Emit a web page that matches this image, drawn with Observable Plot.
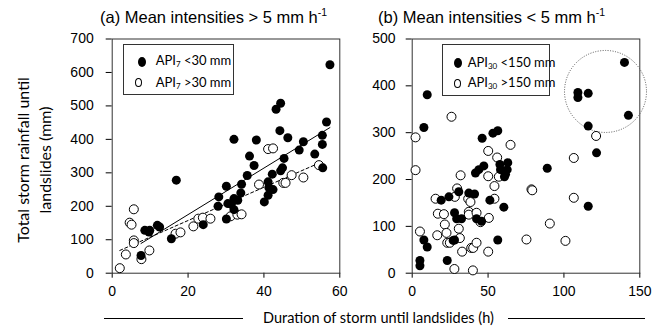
<!DOCTYPE html>
<html>
<head>
<meta charset="utf-8">
<script src="https://cdn.jsdelivr.net/npm/d3@7"></script>
<script src="https://cdn.jsdelivr.net/npm/@observablehq/plot@0.6"></script>
<style>
  html, body { margin: 0; padding: 0; background: #fff; }
  #wrap { position: relative; width: 665px; height: 329px; overflow: hidden; background: #fff; }
  .plot { position: absolute; top: 0; }
  .title { position: absolute; top: 8px; font: 16.5px "Liberation Sans", Arial, sans-serif; color: #000; white-space: nowrap; }
  .title sup { font-size: 10.5px; vertical-align: 7px; line-height: 0; }
  .legend { position: absolute; border: 1px solid #333; background: #fff; font: 13px Lato, sans-serif; color: #000; box-sizing: border-box; }
  .legend .row { position: absolute; white-space: nowrap; line-height: 14px; }
  .legend sub { font-size: 8px; vertical-align: -2px; line-height: 0; }
  .mk { position: absolute; width: 8px; height: 10px; border-radius: 50%; box-sizing: border-box; }
  .mk.f { background: #000; }
  .mk.o { border: 1px solid #000; background: #fff; width: 7px; height: 9px; }
  #ylab { position: absolute; left: 34px; top: 160px; transform: translate(-50%, -50%) rotate(-90deg); font: 16px Lato, sans-serif; line-height: 22px; text-align: center; white-space: nowrap; color: #000; }
  #xlab { position: absolute; top: 309px; left: 0; width: 665px; height: 20px; font: 14.5px Lato, sans-serif; color: #000; }
  #xlab .t { position: absolute; left: 263px; top: 0; white-space: nowrap; }
  #xlab .ln { position: absolute; top: 9px; height: 0; border-top: 1px solid #000; }
</style>
</head>
<body>
<div id="wrap">
  <div class="title" style="left:100px">(a) Mean intensities &gt; 5 mm h<sup>-1</sup></div>
  <div class="title" style="left:378px">(b) Mean intensities &lt; 5 mm h<sup>-1</sup></div>
  <div id="ylab">Total storm rainfall until<br>landslides (mm)</div>
  <div id="xlab"><div class="ln" style="left:104px;width:139px"></div><div class="t">Duration of storm until landslides (h)</div><div class="ln" style="left:508px;width:137px"></div></div>
</div>
<script>
// Panel (a): mean intensities > 5 mm/h
const aFilledX = [57.4,44.4,43.2,56.5,44.2,32.1,38.0,46.3,55.4,50.4,55.4,49.3,36.2,45.3,53.4,37.4,55.5,44.9,44.4,42.2,35.6,16.9,30.1,34.1,41.1,41.3,42.4,33.9,41.1,28.1,32.1,33.1,27.9,30.5,31.4,40.1,32.1,30.1,24.0,11.9,12.5,8.6,9.9,9.7,15.6,7.6];
const aFilledY = [623,508,490,452,426,400,398,405,412,393,385,368,350,343,356,322,315,315,306,296,292,278,260,266,273,256,250,240,233,228,223,218,200,208,206,213,190,162,145,143,138,128,128,123,103,53];
const aOpenX = [2.0,3.6,7.7,9.8,5.7,5.7,4.6,5.1,5.7,16.7,18.0,21.4,22.7,23.9,25.9,31.2,33.0,34.1,38.7,41.1,42.4,45.1,45.7,47.3,50.4,54.5];
const aOpenY = [15,56,42,68,98,90,151,145,191,118,122,140,163,166,163,170,175,176,265,371,373,270,270,293,286,323];

// Panel (b): mean intensities < 5 mm/h
const bFilledX = [139.9,109.2,109.2,116.0,142.5,116.0,9.9,7.7,46.1,53.2,56.4,121.5,89.0,116.0,41.7,43.9,47.2,57.8,63.0,58.2,62.6,60.8,61.5,30.7,37.3,41.1,24.2,19.1,51.2,60.4,27.9,29.3,32.5,42.4,45.7,27.9,7.7,9.9,56.4,23.1,5.1,5.1,27.0];
const bFilledY = [450,386,375,384,337,314,381,311,288,299,304,257,224,143,214,221,229,232,236,221,221,206,211,174,171,169,163,156,156,141,129,116,116,116,111,71,71,56,71,27,27,16,70];
const bOpenX = [2.2,2.2,25.9,121.2,106.5,64.8,50.1,56.0,31.9,50.1,57.1,54.2,78.6,79.1,106.5,15.4,28.1,29.6,36.9,38.4,54.2,16.9,20.9,37.3,37.3,42.4,50.5,45.0,21.5,16.5,22.6,30.7,31.4,5.1,23.1,24.8,32.9,38.9,40.2,42.4,50.1,27.8,40.0,75.3,90.7,101.0];
const bOpenY = [290,220,334,293,246,274,261,247,209,207,206,186,179,177,161,159,163,181,159,152,159,127,126,131,125,129,118,109,104,81,86,95,75,89,65,65,46,54,54,65,46,9,6,72,106,69];

// Highlighted cluster (dotted circle) in panel (b)
const bCircleX = [127.4];
const bCircleY = [388];

const aTicksX = [0, 20, 40, 60];
const aTicksY = [0, 100, 200, 300, 400, 500, 600, 700];
const bTicksX = [0, 50, 100, 150];
const bTicksY = [0, 100, 200, 300, 400, 500];

const zip = (xs, ys) => xs.map((x, i) => ({x, y: ys[i]}));
const aFilled = zip(aFilledX, aFilledY);
const aOpen = zip(aOpenX, aOpenY);
const bFilled = zip(bFilledX, bFilledY);
const bOpen = zip(bOpenX, bOpenY);
const bCircle = zip(bCircleX, bCircleY);

const baseStyle = {fontFamily: "'Liberation Sans', Arial, sans-serif", fontSize: "14px", background: "transparent", overflow: "visible", color: "#000"};

const plotA = Plot.plot({
  width: 345, height: 329,
  marginLeft: 111.7, marginRight: 5.7, marginTop: 38.5, marginBottom: 56.3,
  style: baseStyle,
  x: {domain: [0, 60], ticks: aTicksX, tickSize: 5, tickPadding: 8, label: null},
  y: {domain: [0, 700], ticks: aTicksY, tickSize: 6, tickPadding: 12.5, label: null},
  marks: [
    Plot.frame({stroke: "#333"}),
    Plot.linearRegressionY(aOpen, {x: "x", y: "y", ci: 0, stroke: "#000", strokeWidth: 1, strokeDasharray: "3,2.5"}),
    Plot.linearRegressionY(aFilled, {x: "x", y: "y", ci: 0, stroke: "#000", strokeWidth: 1}),
    Plot.dot(aOpen, {x: "x", y: "y", r: 4.5, fill: "#fff", stroke: "#000", strokeWidth: 1}),
    Plot.dot(aFilled, {x: "x", y: "y", r: 4.5, fill: "#000"})
  ]
});
plotA.classList.add("plot");
plotA.style.left = "0px";

const plotB = Plot.plot({
  width: 320, height: 329,
  marginLeft: 66.7, marginRight: 25.7, marginTop: 38.5, marginBottom: 56.3,
  style: baseStyle,
  x: {domain: [0, 150], ticks: bTicksX, tickSize: 5, tickPadding: 8, label: null},
  y: {domain: [0, 500], ticks: bTicksY, tickSize: 6, tickPadding: 10.7, label: null},
  marks: [
    Plot.frame({stroke: "#333"}),
    Plot.dot(bCircle, {x: "x", y: "y", r: 41, fill: "none", stroke: "#555", strokeWidth: 1, strokeDasharray: "1,1.5"}),
    Plot.dot(bOpen, {x: "x", y: "y", r: 4.5, fill: "#fff", stroke: "#000", strokeWidth: 1}),
    Plot.dot(bFilled, {x: "x", y: "y", r: 4.5, fill: "#000"})
  ]
});
plotB.classList.add("plot");
plotB.style.left = "345px";

const wrap = document.getElementById("wrap");
wrap.insertBefore(plotB, wrap.firstChild);
wrap.insertBefore(plotA, wrap.firstChild);

// Legends
function legend(left, top, w, h, rows) {
  const d = document.createElement("div");
  d.className = "legend";
  Object.assign(d.style, {left: left + "px", top: top + "px", width: w + "px", height: h + "px"});
  rows.forEach((r) => {
    const m = document.createElement("div");
    m.className = "mk " + r.kind;
    Object.assign(m.style, {left: r.mx + "px", top: (r.y - 4.5) + "px"});
    d.appendChild(m);
    const t = document.createElement("div");
    t.className = "row";
    t.innerHTML = r.html;
    Object.assign(t.style, {left: r.tx + "px", top: (r.y - 8) + "px"});
    d.appendChild(t);
  });
  wrap.appendChild(d);
}
legend(122.7, 44, 111, 51, [
  {kind: "f", mx: 14, tx: 32, y: 16, html: "API<sub>7</sub> &lt;30 mm"},
  {kind: "o", mx: 11.5, tx: 32, y: 37.5, html: "API<sub>7</sub> &gt;30 mm"}
]);
legend(441.7, 44, 108, 52, [
  {kind: "f", mx: 11.5, tx: 25, y: 17.5, html: "API<sub>30</sub> &lt;150 mm"},
  {kind: "o", mx: 11.5, tx: 25, y: 38, html: "API<sub>30</sub> &gt;150 mm"}
]);
</script>
</body>
</html>
